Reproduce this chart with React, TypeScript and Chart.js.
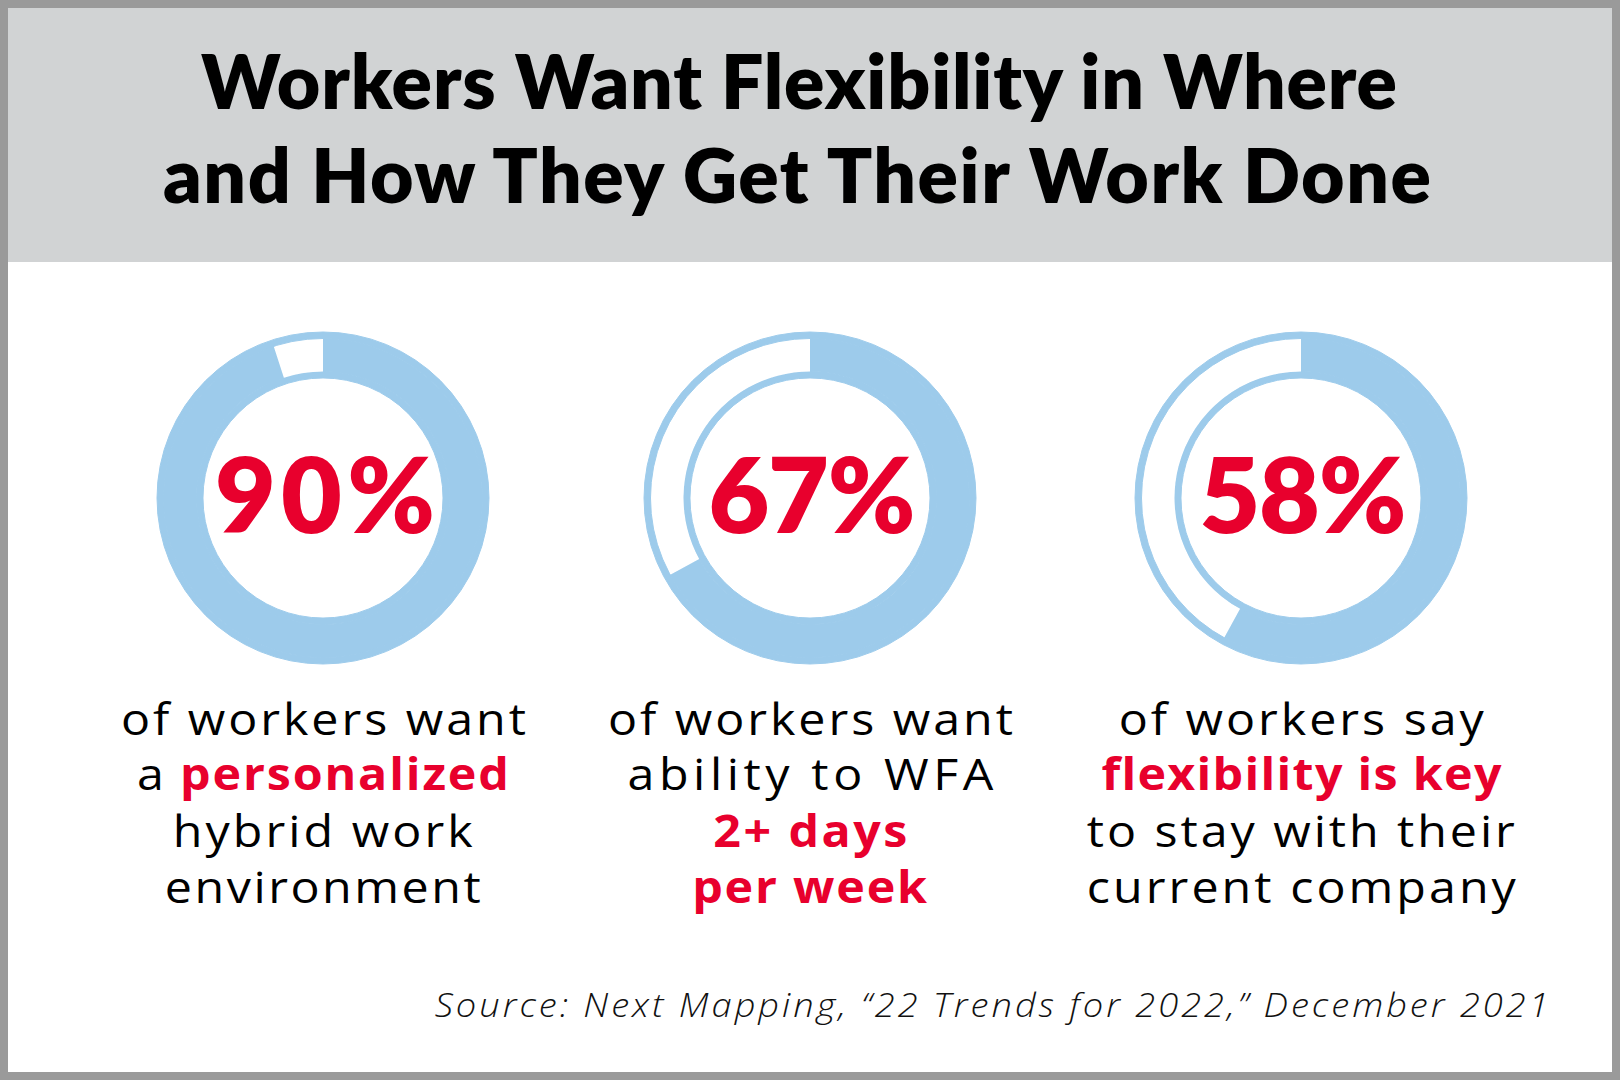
import React, { useEffect, useLayoutEffect, useRef, useState } from 'react';
import { Chart, registerables } from 'chart.js';

Chart.register(...registerables);

// ---------- data ----------
const titleLines = ['Workers Want Flexibility in Where', 'and How They Get Their Work Done'];
const percentLabels = ['90%', '67%', '58%'];
// filled share of each ring as drawn in the graphic (the first ring is drawn ~95% full)
const ringFillValues = [95, 67, 58];
const segmentLabels = ['Share of workers', 'Remainder'];

type Seg = { t: string; hl?: boolean };
const description1: Seg[][] = [
  [{ t: 'of workers want' }],
  [{ t: 'a ' }, { t: 'personalized', hl: true }],
  [{ t: 'hybrid work' }],
  [{ t: 'environment' }],
];
const description2: Seg[][] = [
  [{ t: 'of workers want' }],
  [{ t: 'ability to WFA' }],
  [{ t: '2+ days', hl: true }],
  [{ t: 'per week', hl: true }],
];
const description3: Seg[][] = [
  [{ t: 'of workers say' }],
  [{ t: 'flexibility is key', hl: true }],
  [{ t: 'to stay with their' }],
  [{ t: 'current company' }],
];
const descriptions = [description1, description2, description3];
const sourceText = 'Source: Next Mapping, \u201C22 Trends for 2022,\u201D December 2021';

// ---------- layout / style ----------
const BLUE = '#9dcbeb';
const RED = '#e8002d';
const HEADER_BG = '#d1d3d4';
const FRAME = '#9a9a9a';
const TITLE_FONT = 'Lato, "Open Sans", sans-serif';
const BODY_FONT = '"Open Sans", Lato, sans-serif';

const ringCenters = [323, 810, 1301];
const ringCy = 497.5;
const percentWidths = [220, 207, 207];
const descBaselines = [735, 790, 847, 903];
const descWidths = [
  [405, 372, 300, 316],
  [405, 366, 194, 235],
  [365, 400, 428, 429],
];

type FitProps = {
  cx: number;
  baseline: number;
  width: number;
  size: number;
  family: string;
  weight?: number;
  color?: string;
  italic?: boolean;
  stretch?: number;
  children: React.ReactNode;
};

function FitLine({
  cx,
  baseline,
  width,
  size,
  family,
  weight = 400,
  color = '#000',
  italic = false,
  stretch = 1,
  children,
}: FitProps) {
  const textRef = useRef<HTMLSpanElement>(null);
  const markRef = useRef<HTMLSpanElement>(null);
  const [adj, setAdj] = useState({ ls: 0, dy: 0 });
  useLayoutEffect(() => {
    const t = textRef.current;
    const m = markRef.current;
    if (!t || !m) return;
    const w = t.getBoundingClientRect().width / stretch;
    const n = (t.textContent || '').length;
    const base = m.getBoundingClientRect().bottom;
    const ls = n > 1 ? (width / stretch - w) / (n - 1) : 0;
    setAdj({ ls, dy: baseline - base });
  }, []);
  return (
    <div
      style={{
        position: 'absolute',
        left: cx - 1200,
        width: 2400,
        top: baseline - size,
        textAlign: 'center',
        whiteSpace: 'nowrap',
        fontFamily: family,
        fontSize: size,
        fontWeight: weight,
        fontStyle: italic ? 'italic' : 'normal',
        color,
        lineHeight: 'normal',
        transform: `translate(${(adj.ls * stretch) / 2}px, ${adj.dy}px)`,
      }}
    >
      <span
        ref={textRef}
        style={{
          display: 'inline-block',
          letterSpacing: adj.ls,
          transform: `scaleX(${stretch})`,
          transformOrigin: '50% 50%',
        }}
      >
        {children}
      </span>
      <span ref={markRef} style={{ display: 'inline-block', width: 0, height: 0 }} />
    </div>
  );
}

function Ring({ value, cx, cy }: { value: number; cx: number; cy: number }) {
  const ref = useRef<HTMLCanvasElement>(null);
  useEffect(() => {
    if (!ref.current) return;
    const thin = {
      data: [100],
      backgroundColor: [BLUE],
      borderColor: BLUE,
      borderWidth: 1,
      weight: 6.5,
      hoverOffset: 0,
    };
    const chart = new Chart(ref.current, {
      type: 'doughnut',
      data: {
        labels: segmentLabels,
        datasets: [
          { ...thin } as any,
          {
            data: [value, 100 - value],
            backgroundColor: [BLUE, '#ffffff'],
            borderColor: [BLUE, 'rgba(0,0,0,0)'],
            borderWidth: [1, 0],
            weight: 33,
            hoverOffset: 0,
          } as any,
          { ...thin } as any,
        ],
      },
      options: {
        responsive: false,
        animation: false,
        events: [],
        radius: 166,
        cutout: '72.3%',
        rotation: 0,
        layout: { padding: 0 },
        plugins: { legend: { display: false }, tooltip: { enabled: false } },
      } as any,
    });
    return () => chart.destroy();
  }, [value]);
  return (
    <canvas
      ref={ref}
      width={360}
      height={360}
      style={{ position: 'absolute', left: cx - 180, top: cy - 180, width: 360, height: 360 }}
    />
  );
}

export default function App() {
  return (
    <div
      style={{
        position: 'absolute',
        left: 0,
        top: 0,
        width: 1620,
        height: 1080,
        overflow: 'hidden',
        background: FRAME,
      }}
    >
      <div style={{ position: 'absolute', left: 8, top: 8, right: 8, bottom: 8, background: '#ffffff' }} />
      <div style={{ position: 'absolute', left: 8, top: 8, width: 1604, height: 254, background: HEADER_BG }} />

      <FitLine cx={799} baseline={109} width={1196} size={75} weight={800} family={TITLE_FONT}>
        {titleLines[0]}
      </FitLine>
      <FitLine cx={797} baseline={203} width={1268} size={75} weight={800} family={TITLE_FONT}>
        {titleLines[1]}
      </FitLine>

      {ringFillValues.map((v, i) => (
        <Ring key={'r' + i} value={v} cx={ringCenters[i]} cy={ringCy} />
      ))}

      {percentLabels.map((p, i) => (
        <FitLine
          key={'p' + i}
          cx={ringCenters[i] + 2}
          baseline={533}
          width={percentWidths[i]}
          size={105}
          weight={800}
          color={RED}
          family={TITLE_FONT}
        >
          {p}
        </FitLine>
      ))}

      {descriptions.map((lines, i) =>
        lines.map((segs, j) => (
          <FitLine
            key={'d' + i + '-' + j}
            cx={ringCenters[i]}
            baseline={descBaselines[j]}
            width={descWidths[i][j]}
            size={44}
            stretch={1.1}
            family={BODY_FONT}
          >
            {segs.map((s, k) =>
              s.hl ? (
                <span key={k} style={{ color: RED, fontWeight: 700 }}>{s.t}</span>
              ) : (
                <span key={k}>{s.t}</span>
              )
            )}
          </FitLine>
        ))
      )}

      <FitLine
        cx={992}
        baseline={1017}
        width={1114}
        size={33}
        weight={300}
        italic
        stretch={1.1}
        color="#111"
        family={BODY_FONT}
      >
        {sourceText}
      </FitLine>
    </div>
  );
}
